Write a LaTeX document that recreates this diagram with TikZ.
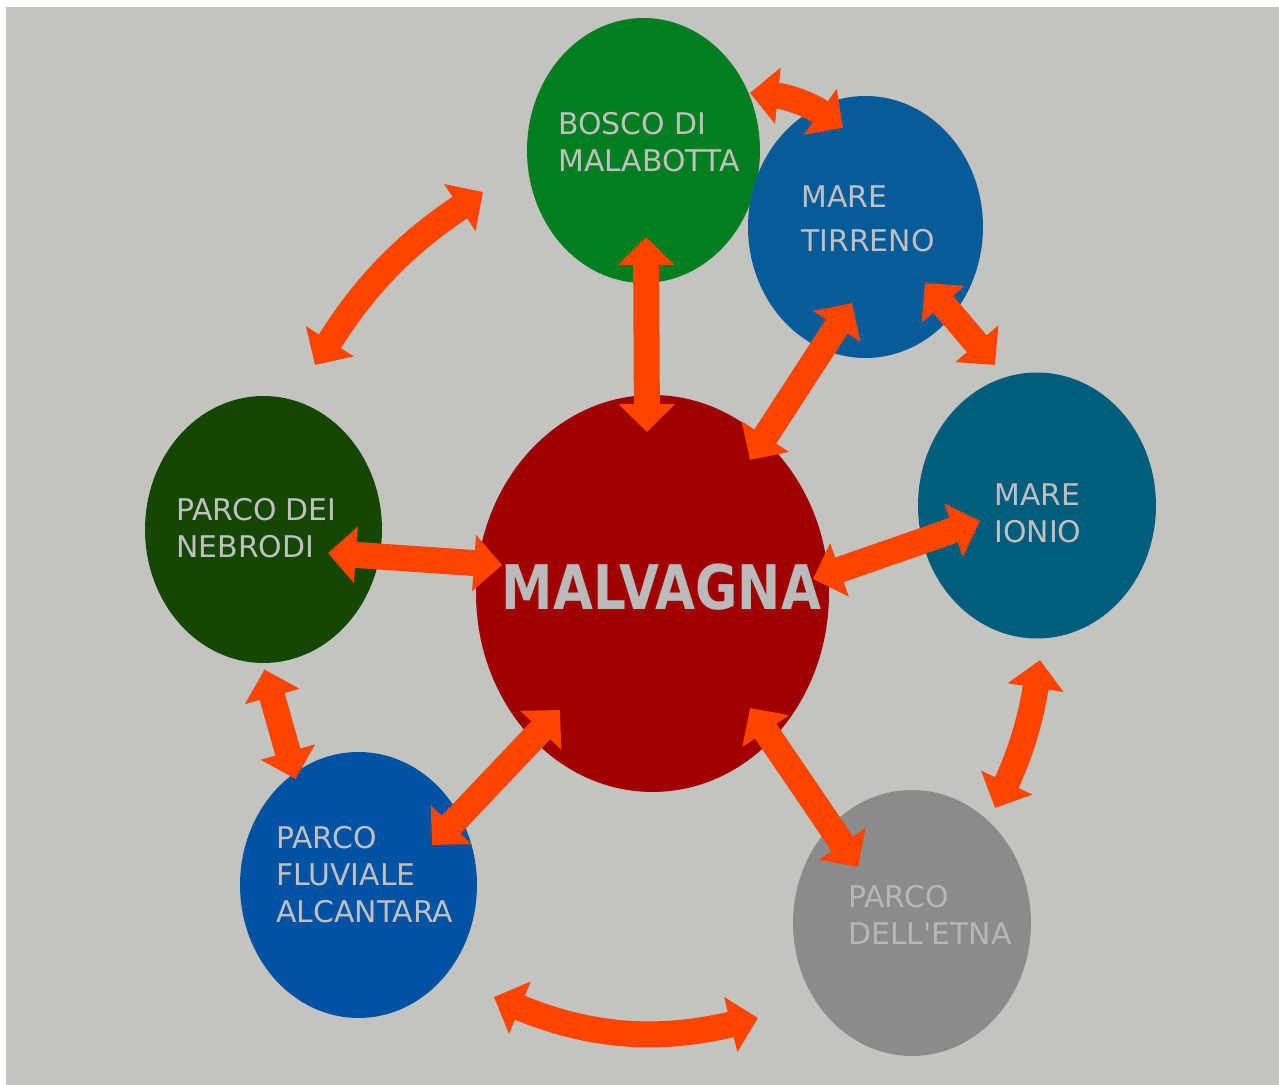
\documentclass[tikz,border=0pt]{standalone}
\usepackage{fontspec}
\setmainfont{DejaVu Sans}
\usepackage{graphicx}
\usetikzlibrary{positioning,calc}
\usetikzlibrary{arrows.meta}
\usetikzlibrary{shapes.geometric}

\definecolor{bgcol}{RGB}{195,196,191}
\definecolor{arrcol}{RGB}{255,68,0}
\definecolor{txtcol}{RGB}{192,192,192}
\definecolor{malvcol}{RGB}{160,0,0}
\definecolor{boscocol}{RGB}{0,126,32}
\definecolor{tirrcol}{RGB}{6,92,153}
\definecolor{ioniocol}{RGB}{0,94,124}
\definecolor{etnacol}{RGB}{139,139,139}
\definecolor{alcancol}{RGB}{0,82,162}
\definecolor{nebrcol}{RGB}{20,72,0}

\tikzset{
   blob/.style={ellipse, inner sep=0pt, draw=none},
   lbl/.style={anchor=west, align=left, inner sep=0pt, text=txtcol,
      font=\fontsize{17}{21}\selectfont},
   dbl/.style={draw=arrcol, line width=0.52cm,
      >={Triangle[length=0.56cm,width=1.1cm]}, <->},
}

\begin{document}
\begin{tikzpicture}[x=0.02cm,y=0.02cm]
   \useasboundingbox (0,0) rectangle (1279,1085);
   \fill[bgcol] (6,0) rectangle (1279,1078);

   % outer places
   \node[blob, fill=boscocol, minimum width=4.66cm, minimum height=5.30cm] (bosco) at (643.5,934.5) {};
   \node[blob, fill=tirrcol,  minimum width=4.70cm, minimum height=5.24cm] (tirreno) at (865.5,858) {};
   \node[blob, fill=ioniocol, minimum width=4.76cm, minimum height=5.32cm] (ionio) at (1037,579.5) {};
   \node[blob, fill=etnacol,  minimum width=4.76cm, minimum height=5.32cm] (etna) at (912,162) {};
   \node[blob, fill=alcancol, minimum width=4.74cm, minimum height=5.32cm] (alcant) at (358.5,200) {};
   \node[blob, fill=nebrcol,  minimum width=4.74cm, minimum height=5.34cm] (nebrodi) at (263.5,555.5) {};

   % centre
   \node[blob, fill=malvcol, minimum width=7.06cm, minimum height=7.94cm] (malv) at (652.5,491.5) {};

   % labels
   \node[lbl] (boscot) at ($(bosco)+(-85.5,8)$) {BOSCO DI\\MALABOTTA};
   \node[lbl, font=\fontsize{17}{25}\selectfont] (tirrenot) at ($(tirreno)+(-64.5,8.5)$) {MARE\\TIRRENO};
   \node[lbl] (ioniot) at ($(ionio)+(-43,-7.5)$) {MARE\\IONIO};
   \node[lbl, text=txtcol!85!gray] (etnat) at ($(etna)+(-64,8.5)$) {PARCO\\DELL\textquotesingle ETNA};
   \node[lbl] (alcantt) at ($(alcant)+(-82.5,10.5)$) {PARCO\\FLUVIALE\\ALCANTARA};
   \node[lbl] (nebrodit) at ($(nebrodi)+(-87.5,1)$) {PARCO DEI\\NEBRODI};
   \node[inner sep=0pt, text=txtcol!90!gray, font=\fontsize{35}{40}\selectfont\bfseries]
      (malvt) at ($(malv)+(9,6)$) {\scalebox{0.84}[1]{MALVAGNA}};

   % links to the centre
   \draw[dbl] ($(bosco)+(2.5,-86.5)$) -- ($(malv)+(-5.5,161.5)$);
   \draw[dbl] ($(tirreno)+(-13.5,-76)$) -- ($(malv)+(97.5,133.5)$);
   \draw[dbl] ($(malv)+(160.5,14.5)$) -- ($(ionio)+(-57,-15.5)$);
   \draw[dbl] ($(nebrodi)+(64.5,-23.5)$) -- ($(malv)+(-150.5,28.5)$);
   \draw[dbl] ($(malv)+(-92.5,-116.5)$) -- ($(alcant)+(73.5,40)$);
   \draw[dbl] ($(malv)+(97.5,-114.5)$) -- ($(etna)+(-54,56)$);

   % links round the ring
   \draw[dbl] ($(bosco)+(106.5,57.5)$) to[bend left=15] ($(tirreno)+(-22.5,99)$);
   \draw[dbl] ($(tirreno)+(59.5,-56)$) -- ($(ionio)+(-42,140.5)$);
   \draw[dbl] ($(ionio)+(3,-154.5)$) to[bend left=8] ($(etna)+(83,115)$);
   \draw[dbl] ($(alcant)+(135.5,-112)$) to[bend right=18] ($(etna)+(-154,-95)$);
   \draw[dbl] ($(nebrodi)+(1,-140)$) -- ($(alcant)+(-63,106)$);
   \draw[dbl] ($(nebrodi)+(51.5,164.5)$) to[bend left=12] ($(bosco)+(-160.5,-41.5)$);
\end{tikzpicture}
\end{document}
